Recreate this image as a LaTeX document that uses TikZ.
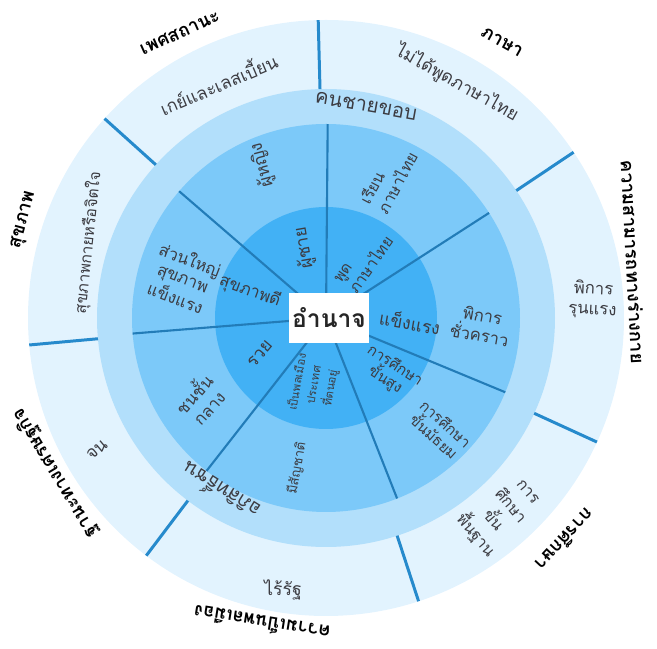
\documentclass[tikz,border=0pt]{standalone}
\usepackage{fontspec}
\newfontfamily\thaifont[Script=Thai]{Loma}
\definecolor{ringouter}{RGB}{226,243,254}
\definecolor{ringlabel}{RGB}{178,223,251}
\definecolor{ringmid}{RGB}{124,201,249}
\definecolor{ringin}{RGB}{66,177,245}
\definecolor{sepblue}{RGB}{38,138,204}
\definecolor{itemgray}{RGB}{60,60,66}
\tikzset{
  item/.style={font=\thaifont\fontsize{10}{12}\selectfont, text=itemgray, align=center, inner sep=1pt},
  cat/.style={font=\thaifont\bfseries\fontsize{10.5}{12}\selectfont, text=black, inner sep=1pt},
  sepout/.style={draw=sepblue, line width=1.7pt},
  sepin/.style={draw=sepblue!90!black, line width=1.2pt},
  powerbox/.style={fill=white, inner xsep=2pt, minimum width=1.58cm, minimum height=1.0cm,
    font=\thaifont\bfseries\fontsize{14}{15}\selectfont, text=black!85}
}
\begin{document}
\begin{tikzpicture}[x=0.02cm,y=0.02cm]
\useasboundingbox (0,0) rectangle (657,649);
\begin{scope}[shift={(326,331)}]
\fill[ringouter] (0,0) circle (298);
\fill[ringlabel] (0,0) circle (229);
\fill[ringmid] (0,0) circle (194);
\fill[ringin] (0,0) circle (111);
\draw[sepout] (91.5:229) -- (91.5:298);
\draw[sepout] (33.8:229) -- (33.8:298);
\draw[sepout] (-24.6:229) -- (-24.6:298);
\draw[sepout] (-71.9:229) -- (-71.9:298);
\draw[sepout] (232.9:229) -- (232.9:298);
\draw[sepout] (185.2:229) -- (185.2:298);
\draw[sepout] (138.0:229) -- (138.0:298);
\draw[sepin] (0,0) -- (89.5:194);
\draw[sepin] (0,0) -- (32.8:194);
\draw[sepin] (0,0) -- (-22.5:194);
\draw[sepin] (0,0) -- (-68.5:194);
\draw[sepin] (0,0) -- (232.0:194);
\draw[sepin] (0,0) -- (184.6:194);
\draw[sepin] (0,0) -- (139.2:194);
\end{scope}
\node[powerbox] (power) at (329,331) {อำนาจ};

\node[item, rotate=100] (gen-in) at (304,401) {ผู้ชาย};
\node[item, rotate=105] (gen-mid) at (262,484) {ผู้หญิง};
\node[item, rotate=23] (gen-out) at (218,566) {เกย์และเลสเบี้ยน};
\node[item, rotate=55, align=left, font=\thaifont\fontsize{8.8}{11}\selectfont] (lang-in) at (364,389) {พูด\\ภาษาไทย};
\node[item, rotate=62, align=left, font=\thaifont\fontsize{9}{11.5}\selectfont] (lang-mid) at (388,471) {เรียน\\ภาษาไทย};
\node[item, rotate=-29] (lang-out) at (457,566) {ไม่ได้พูดภาษาไทย};
\node[item, rotate=-10] (abl-in) at (410,327) {แข็งแรง};
\node[item, rotate=-10, font=\thaifont\fontsize{9.5}{11.5}\selectfont] (abl-mid) at (481,324) {พิการ\\ชั่วคราว};
\node[item, rotate=-3, font=\thaifont\fontsize{9.5}{11.5}\selectfont] (abl-out) at (593,349) {พิการ\\รุนแรง};
\node[item, rotate=-33, font=\thaifont\fontsize{8.5}{10}\selectfont] (edu-in) at (390,276) {การศึกษา\\ขั้นสูง};
\node[item, rotate=-42, font=\thaifont\fontsize{8.5}{10}\selectfont] (edu-mid) at (440,219) {การศึกษา\\ขั้นมัธยม};
\node[item, rotate=-50, font=\thaifont\fontsize{9}{13}\selectfont] (edu-out) at (500,134) {การ\\ศึกษา\\ขั้น\\พื้นฐาน};
\node[item, rotate=80, font=\thaifont\fontsize{6.5}{9.5}\selectfont] (cit-in) at (314,264) {เป็นพลเมือง\\ประเทศ\\ที่ตนอยู่};
\node[item, rotate=80, font=\thaifont\fontsize{7.5}{9}\selectfont] (cit-mid) at (297,181) {มีสัญชาติ};
\node[item] (cit-out) at (283,59) {ไร้รัฐ};
\node[item, rotate=50] (eco-in) at (260,295) {รวย};
\node[item, rotate=48, font=\thaifont\fontsize{9.5}{11.3}\selectfont] (eco-mid) at (200,249) {ชนชั้น\\กลาง};
\node[item, rotate=40] (eco-out) at (97,199) {จน};
\node[item, rotate=-20, font=\thaifont\fontsize{9.5}{11}\selectfont] (hlt-in) at (250,358) {สุขภาพดี};
\node[item, rotate=-21, font=\thaifont\fontsize{9.5}{10.8}\selectfont] (hlt-mid) at (183,371) {ส่วนใหญ่\\สุขภาพ\\แข็งแรง};
\node[item, rotate=84, font=\thaifont\fontsize{9}{11}\selectfont] (hlt-out) at (88,406) {สุขภาพกายหรือจิตใจ};

\node[item, rotate=-10, font=\thaifont\fontsize{11.5}{13}\selectfont] (marginal) at (366,543) {คนชายขอบ};
\node[item, rotate=148, font=\thaifont\fontsize{11}{13}\selectfont] (privileged) at (220,157) {อภิสิทธิ์ชน};

\node[cat, rotate=24] (cat-gen) at (180,616) {เพศสถานะ};
\node[cat, rotate=-29] (cat-lang) at (502,607) {ภาษา};
\node[cat, rotate=-87] (cat-abl) at (633,387) {ความสามารถทางร่างกาย};
\node[cat, rotate=-133] (cat-edu) at (565,109) {การศึกษา};
\node[cat, rotate=171] (cat-cit) at (262,25) {ความเป็นพลเมือง};
\node[cat, rotate=121] (cat-eco) at (55,176) {ฐานะทางเศรษฐกิจ};
\node[cat, rotate=75] (cat-hlt) at (24,429) {สุขภาพ};
\end{tikzpicture}
\end{document}
